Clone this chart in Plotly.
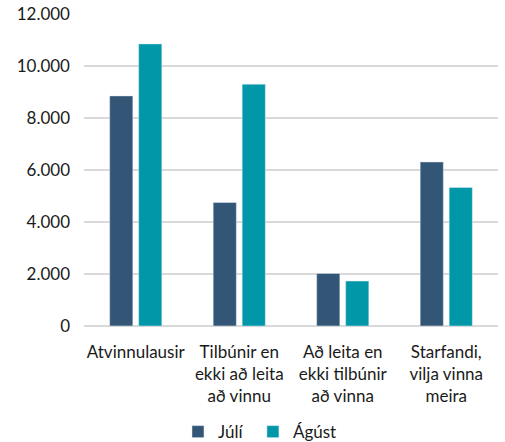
import plotly.graph_objects as go

categories = ["Atvinnulausir", "Tilbúnir en<br>ekki að leita<br>að vinnu", "Að leita en<br>ekki tilbúnir<br>að vinna", "Starfandi,<br>vilja vinna<br>meira"]
juli = [8850, 4750, 2020, 6310]
agust = [10850, 9300, 1730, 5330]
y_ticks = [0, 2000, 4000, 6000, 8000, 10000, 12000]
y_tick_text = ["0", "2.000", "4.000", "6.000", "8.000", "10.000", "12.000"]

fig = go.Figure()
fig.add_trace(go.Bar(name="Júlí", x=categories, y=juli, marker=dict(color="#335677"), legend="legend"))
fig.add_trace(go.Bar(name="Ágúst", x=categories, y=agust, marker=dict(color="#0097A8"), legend="legend2"))

font = dict(family="Lato, 'Open Sans', sans-serif", size=17, color="#1a1a1a")
leg_common = dict(orientation="h", y=-0.34, yanchor="middle", xanchor="left",
                  font=font, bgcolor="rgba(0,0,0,0)", borderwidth=0)
fig.update_layout(
    width=505, height=442,
    margin=dict(l=84, r=7, t=14, b=116, autoexpand=False),
    paper_bgcolor="white", plot_bgcolor="white",
    barmode="group", bargap=0.44, bargroupgap=0.2,
    font=font,
    showlegend=True,
    legend=dict(x=0.227, **leg_common),
    legend2=dict(x=0.408, **leg_common),
    xaxis=dict(showgrid=False, showline=False, ticks="", tickfont=font,
               ticklabelstandoff=14, automargin=False),
    yaxis=dict(range=[0, 12000], tickvals=y_ticks, ticktext=y_tick_text,
               showgrid=True, gridcolor="#d9d9d9", gridwidth=1.5,
               zeroline=True, zerolinecolor="#d9d9d9", zerolinewidth=1.5,
               showline=False, ticks="", tickfont=font, ticklabelstandoff=13,
               automargin=False),
)
fig.write_html("out.html", config={"displayModeBar": False},
               post_script="document.body.style.margin='0';document.body.style.overflow='hidden';")
